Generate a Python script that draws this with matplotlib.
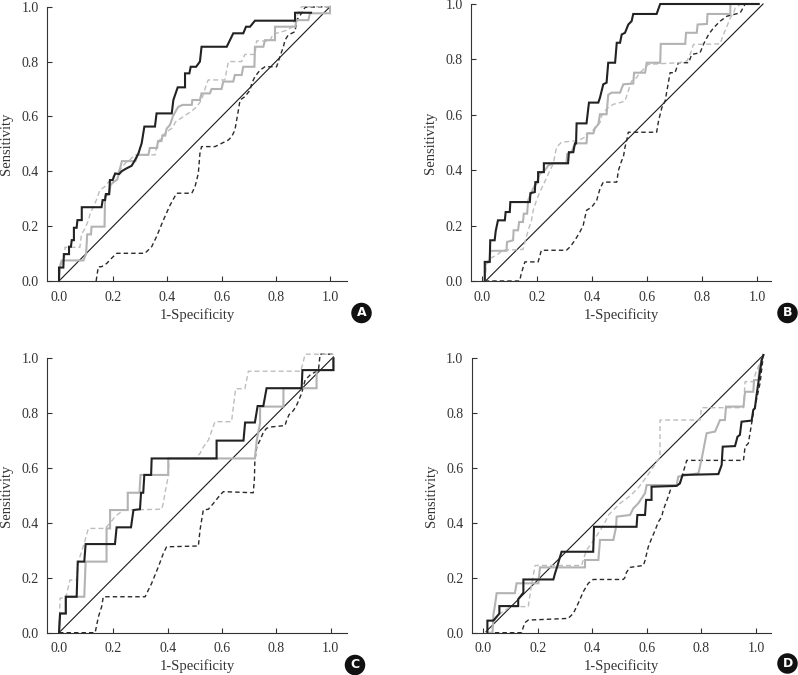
import matplotlib
matplotlib.use("Agg")
import matplotlib.pyplot as plt

# ROC curves: (1-specificity, sensitivity) corners
a_black = [(0, 0), (0, 0.049), (0.016, 0.049), (0.018, 0.098), (0.037, 0.098), (0.037, 0.125),
           (0.044, 0.125), (0.047, 0.149), (0.055, 0.149), (0.055, 0.194), (0.065, 0.194),
           (0.068, 0.222), (0.084, 0.222), (0.084, 0.269), (0.157, 0.269), (0.161, 0.295),
           (0.17, 0.295), (0.173, 0.317), (0.185, 0.317), (0.188, 0.368), (0.198, 0.368),
           (0.207, 0.392), (0.222, 0.39), (0.231, 0.4), (0.248, 0.41), (0.268, 0.42), (0.28, 0.44),
           (0.293, 0.465), (0.305, 0.502), (0.315, 0.563), (0.354, 0.563), (0.36, 0.611),
           (0.416, 0.611), (0.422, 0.66), (0.438, 0.706), (0.465, 0.706), (0.465, 0.757),
           (0.481, 0.757), (0.486, 0.781), (0.506, 0.781), (0.52, 0.8), (0.526, 0.854),
           (0.619, 0.854), (0.643, 0.903), (0.68, 0.903), (0.69, 0.927), (0.705, 0.927),
           (0.723, 0.949), (0.871, 0.949), (0.871, 0.978), (0.93, 0.978)]
a_gray = [(0, 0), (0.005, 0.06), (0.01, 0.075), (0.09, 0.075), (0.1, 0.1), (0.104, 0.17),
          (0.118, 0.17), (0.12, 0.198), (0.168, 0.198), (0.17, 0.31), (0.185, 0.315), (0.19, 0.35),
          (0.2, 0.36), (0.215, 0.37), (0.232, 0.437), (0.282, 0.437), (0.29, 0.46), (0.33, 0.46),
          (0.335, 0.485), (0.362, 0.485), (0.365, 0.51), (0.378, 0.51), (0.382, 0.53),
          (0.392, 0.53), (0.397, 0.555), (0.41, 0.57), (0.42, 0.6), (0.43, 0.618), (0.44, 0.635),
          (0.456, 0.642), (0.49, 0.642), (0.492, 0.66), (0.52, 0.66), (0.526, 0.684),
          (0.557, 0.684), (0.563, 0.7), (0.6, 0.7), (0.606, 0.727), (0.643, 0.727), (0.649, 0.751),
          (0.674, 0.751), (0.68, 0.781), (0.721, 0.781), (0.723, 0.854), (0.754, 0.854),
          (0.76, 0.878), (0.797, 0.878), (0.797, 0.927), (0.871, 0.927), (0.877, 0.951),
          (0.92, 0.951), (0.926, 0.976), (1.0, 0.976), (1.0, 1.0)]
a_gray_dash = [(0, 0), (0.004, 0.05), (0.02, 0.08), (0.022, 0.123), (0.077, 0.123), (0.083, 0.17),
               (0.095, 0.19), (0.108, 0.22), (0.115, 0.245), (0.14, 0.3), (0.15, 0.33), (0.17, 0.345),
               (0.19, 0.37), (0.21, 0.39), (0.225, 0.405), (0.245, 0.43), (0.26, 0.44), (0.28, 0.46),
               (0.355, 0.46), (0.36, 0.49), (0.37, 0.51), (0.38, 0.53), (0.4, 0.545), (0.42, 0.56),
               (0.43, 0.58), (0.445, 0.59), (0.46, 0.6), (0.475, 0.61), (0.49, 0.62), (0.508, 0.635),
               (0.526, 0.66), (0.545, 0.72), (0.551, 0.733), (0.612, 0.733), (0.625, 0.8),
               (0.674, 0.8), (0.686, 0.826), (0.723, 0.826), (0.729, 0.875), (0.778, 0.875),
               (0.79, 0.9), (0.834, 0.912), (0.858, 0.924), (0.871, 0.951), (0.883, 0.976),
               (0.895, 1.0), (1.0, 1.0)]
a_black_dash = [(0.137, 0), (0.145, 0.052), (0.157, 0.052), (0.176, 0.064), (0.194, 0.083),
                (0.213, 0.101), (0.317, 0.101), (0.342, 0.125), (0.36, 0.162), (0.385, 0.222),
                (0.41, 0.277), (0.434, 0.32), (0.49, 0.32), (0.502, 0.344), (0.514, 0.392),
                (0.52, 0.465), (0.526, 0.49), (0.576, 0.49), (0.625, 0.514), (0.637, 0.526),
                (0.649, 0.55), (0.662, 0.623), (0.668, 0.66), (0.686, 0.672), (0.705, 0.696),
                (0.711, 0.72), (0.723, 0.745), (0.742, 0.769), (0.76, 0.781), (0.803, 0.781),
                (0.815, 0.818), (0.828, 0.854), (0.834, 0.878), (0.846, 0.897), (0.871, 0.909),
                (0.877, 0.951), (0.895, 0.976), (0.908, 0.998), (1.0, 1.0)]
a_diag = [(0, 0), (1.0, 1.0)]

b_black = [(0.01, 0), (0.01, 0.069), (0.028, 0.069), (0.03, 0.147), (0.046, 0.147), (0.05, 0.181),
           (0.058, 0.219), (0.083, 0.219), (0.086, 0.249), (0.101, 0.249), (0.103, 0.285),
           (0.174, 0.285), (0.176, 0.317), (0.192, 0.321), (0.194, 0.357), (0.204, 0.357),
           (0.204, 0.393), (0.225, 0.393), (0.225, 0.425), (0.313, 0.425), (0.316, 0.465),
           (0.332, 0.465), (0.338, 0.497), (0.342, 0.497), (0.344, 0.569), (0.38, 0.569),
           (0.389, 0.644), (0.423, 0.644), (0.429, 0.662), (0.441, 0.71), (0.453, 0.716),
           (0.459, 0.788), (0.484, 0.788), (0.49, 0.86), (0.502, 0.86), (0.508, 0.89),
           (0.52, 0.896), (0.532, 0.926), (0.544, 0.938), (0.55, 0.964), (0.635, 0.964),
           (0.648, 1.0), (1.006, 1.0)]
b_gray = [(0.01, 0), (0.013, 0.063), (0.028, 0.069), (0.03, 0.109), (0.089, 0.109), (0.091, 0.141),
          (0.113, 0.147), (0.115, 0.183), (0.131, 0.183), (0.135, 0.213), (0.149, 0.213),
          (0.152, 0.243), (0.164, 0.243), (0.168, 0.291), (0.18, 0.321), (0.192, 0.345),
          (0.198, 0.351), (0.21, 0.387), (0.228, 0.399), (0.241, 0.417), (0.259, 0.425),
          (0.307, 0.425), (0.31, 0.459), (0.326, 0.465), (0.332, 0.483), (0.341, 0.497),
          (0.38, 0.497), (0.383, 0.533), (0.405, 0.533), (0.411, 0.552), (0.423, 0.566),
          (0.429, 0.602), (0.453, 0.602), (0.459, 0.672), (0.471, 0.68), (0.502, 0.68),
          (0.508, 0.696), (0.514, 0.71), (0.55, 0.713), (0.553, 0.752), (0.593, 0.752),
          (0.599, 0.788), (0.648, 0.788), (0.65, 0.856), (0.739, 0.856), (0.742, 0.896),
          (0.781, 0.896), (0.784, 0.926), (0.818, 0.928), (0.82, 0.964), (0.903, 0.964),
          (0.903, 1.0), (1.006, 1.0)]
b_gray_dash = [(0.01, 0), (0.016, 0.063), (0.028, 0.081), (0.052, 0.093), (0.077, 0.111),
               (0.149, 0.114), (0.156, 0.141), (0.168, 0.183), (0.18, 0.219), (0.186, 0.255),
               (0.198, 0.291), (0.21, 0.321), (0.222, 0.345), (0.247, 0.399), (0.259, 0.423),
               (0.271, 0.483), (0.289, 0.501), (0.35, 0.507), (0.374, 0.519), (0.38, 0.531),
               (0.399, 0.537), (0.411, 0.554), (0.429, 0.572), (0.435, 0.596), (0.447, 0.614),
               (0.459, 0.626), (0.478, 0.638), (0.502, 0.644), (0.52, 0.65), (0.532, 0.686),
               (0.544, 0.722), (0.557, 0.728), (0.575, 0.752), (0.593, 0.77), (0.605, 0.782),
               (0.714, 0.788), (0.745, 0.794), (0.757, 0.818), (0.769, 0.854), (0.866, 0.856),
               (0.878, 0.89), (0.891, 0.92), (0.903, 0.95), (0.915, 0.968), (0.921, 0.986),
               (0.939, 0.998), (1.006, 1.0)]
b_black_dash = [(0.01, 0), (0.137, 0), (0.143, 0.028), (0.156, 0.069), (0.204, 0.069),
                (0.216, 0.111), (0.307, 0.111), (0.32, 0.123), (0.338, 0.147), (0.356, 0.177),
                (0.368, 0.201), (0.38, 0.255), (0.399, 0.267), (0.417, 0.291), (0.429, 0.333),
                (0.441, 0.357), (0.49, 0.357), (0.496, 0.399), (0.508, 0.435), (0.514, 0.447),
                (0.52, 0.483), (0.526, 0.507), (0.532, 0.537), (0.635, 0.537), (0.642, 0.578),
                (0.654, 0.626), (0.666, 0.65), (0.684, 0.752), (0.702, 0.752), (0.714, 0.788),
                (0.751, 0.788), (0.763, 0.818), (0.793, 0.824), (0.806, 0.856), (0.824, 0.89),
                (0.842, 0.914), (0.866, 0.938), (0.891, 0.956), (0.915, 0.962), (0.939, 0.968),
                (0.957, 1.0), (1.0, 1.0)]
b_diag = [(0.013, 0), (1.022, 1.0)]

c_black = [(0, 0), (0.004, 0.07), (0.025, 0.07), (0.025, 0.131), (0.065, 0.131), (0.069, 0.259),
           (0.093, 0.259), (0.098, 0.323), (0.206, 0.323), (0.212, 0.384), (0.265, 0.384),
           (0.274, 0.447), (0.298, 0.45), (0.302, 0.51), (0.31, 0.51), (0.314, 0.575),
           (0.339, 0.575), (0.341, 0.635), (0.58, 0.635), (0.58, 0.7), (0.679, 0.7),
           (0.685, 0.766), (0.721, 0.766), (0.731, 0.826), (0.752, 0.826), (0.764, 0.891),
           (0.893, 0.891), (0.896, 0.957), (1.01, 0.957), (1.01, 1.0)]
c_gray = [(0, 0), (0.004, 0.07), (0.025, 0.07), (0.025, 0.131), (0.093, 0.131), (0.098, 0.259),
          (0.175, 0.259), (0.175, 0.38), (0.188, 0.38), (0.188, 0.447), (0.253, 0.447),
          (0.253, 0.51), (0.296, 0.51), (0.3, 0.575), (0.402, 0.575), (0.402, 0.635),
          (0.721, 0.635), (0.728, 0.702), (0.74, 0.763), (0.74, 0.824), (0.826, 0.824),
          (0.826, 0.891), (0.948, 0.891), (0.948, 0.957), (1.01, 0.957), (1.01, 1.0)]
c_gray_dash = [(0, 0), (0.004, 0.126), (0.025, 0.126), (0.04, 0.192), (0.065, 0.192),
               (0.071, 0.259), (0.093, 0.326), (0.108, 0.38), (0.169, 0.38), (0.188, 0.399),
               (0.206, 0.423), (0.237, 0.447), (0.378, 0.45), (0.384, 0.472), (0.39, 0.508),
               (0.402, 0.57), (0.405, 0.635), (0.5, 0.635), (0.519, 0.653), (0.532, 0.678),
               (0.55, 0.702), (0.574, 0.769), (0.635, 0.769), (0.65, 0.889), (0.684, 0.889),
               (0.697, 0.953), (0.89, 0.953), (0.906, 1.015), (1.01, 1.015)]
c_black_dash = [(0, 0), (0.133, 0), (0.145, 0.058), (0.157, 0.095), (0.163, 0.131), (0.317, 0.131),
                (0.329, 0.156), (0.341, 0.18), (0.366, 0.241), (0.384, 0.289), (0.396, 0.313),
                (0.513, 0.316), (0.519, 0.374), (0.531, 0.447), (0.55, 0.45), (0.568, 0.471),
                (0.593, 0.502), (0.605, 0.514), (0.715, 0.51), (0.719, 0.557), (0.721, 0.629),
                (0.728, 0.678), (0.74, 0.702), (0.752, 0.73), (0.764, 0.745), (0.783, 0.75),
                (0.832, 0.755), (0.838, 0.775), (0.847, 0.795), (0.863, 0.81), (0.875, 0.83),
                (0.893, 0.872), (0.906, 0.921), (0.924, 0.939), (0.955, 0.957), (0.961, 1.015),
                (1.01, 1.015)]
c_diag = [(0.004, 0.004), (1.01, 1.005)]

d_black = [(0.015, 0), (0.015, 0.044), (0.037, 0.044), (0.059, 0.07), (0.059, 0.097),
           (0.128, 0.097), (0.128, 0.122), (0.147, 0.146), (0.147, 0.194), (0.257, 0.194),
           (0.263, 0.216), (0.271, 0.241), (0.287, 0.295), (0.403, 0.295), (0.406, 0.386),
           (0.562, 0.386), (0.565, 0.429), (0.593, 0.429), (0.597, 0.484), (0.617, 0.484),
           (0.617, 0.532), (0.709, 0.535), (0.721, 0.544), (0.727, 0.563), (0.731, 0.575),
           (0.862, 0.578), (0.874, 0.611), (0.878, 0.678), (0.923, 0.68), (0.929, 0.702),
           (0.932, 0.714), (0.941, 0.721), (0.947, 0.769), (0.984, 0.773), (0.99, 0.812),
           (0.996, 0.818), (1.002, 0.866), (1.021, 0.994), (1.027, 1.012)]
d_gray = [(0.015, 0), (0.034, 0), (0.037, 0.065), (0.043, 0.101), (0.049, 0.144), (0.116, 0.144),
          (0.122, 0.18), (0.202, 0.18), (0.208, 0.238), (0.373, 0.238), (0.373, 0.265),
          (0.422, 0.265), (0.428, 0.338), (0.477, 0.338), (0.487, 0.386), (0.489, 0.423),
          (0.538, 0.429), (0.55, 0.453), (0.568, 0.471), (0.593, 0.508), (0.599, 0.538),
          (0.709, 0.538), (0.715, 0.569), (0.789, 0.581), (0.801, 0.635), (0.819, 0.727),
          (0.85, 0.733), (0.868, 0.775), (0.886, 0.775), (0.89, 0.824), (0.954, 0.824),
          (0.96, 0.878), (0.99, 0.878), (0.993, 0.921), (1.009, 0.921), (1.012, 0.964),
          (1.027, 1.012)]
d_gray_dash = [(0.015, 0), (0.03, 0), (0.035, 0.03), (0.05, 0.062), (0.1, 0.095), (0.165, 0.095),
               (0.17, 0.13), (0.177, 0.175), (0.19, 0.245), (0.36, 0.245), (0.378, 0.3),
               (0.4, 0.33), (0.42, 0.36), (0.44, 0.39), (0.46, 0.43), (0.5, 0.47), (0.54, 0.5),
               (0.57, 0.53), (0.6, 0.57), (0.648, 0.64), (0.648, 0.775), (0.795, 0.775),
               (0.8, 0.82), (0.954, 0.82), (0.96, 0.915), (0.99, 0.915), (1.0, 0.95),
               (1.027, 1.012)]
d_black_dash = [(0.015, 0), (0.14, 0), (0.152, 0.036), (0.165, 0.046), (0.311, 0.052),
                (0.33, 0.07), (0.348, 0.107), (0.367, 0.15), (0.385, 0.18), (0.403, 0.194),
                (0.513, 0.194), (0.519, 0.2), (0.525, 0.22), (0.538, 0.238), (0.587, 0.245),
                (0.593, 0.263), (0.605, 0.313), (0.617, 0.343), (0.63, 0.373), (0.642, 0.404),
                (0.654, 0.422), (0.66, 0.447), (0.678, 0.495), (0.69, 0.532), (0.721, 0.544),
                (0.746, 0.628), (0.954, 0.628), (0.96, 0.678), (0.972, 0.69), (0.984, 0.763),
                (0.99, 0.8), (1.002, 0.85), (1.015, 0.91), (1.027, 1.012)]
d_diag = [(0.01, 0.004), (1.025, 1.01)]

ticks = [0.0, 0.2, 0.4, 0.6, 0.8, 1.0]
tick_labels = ["0.0", "0.2", "0.4", "0.6", "0.8", "1.0"]
panel_letters = ["A", "B", "C", "D"]

SERIF = "Liberation Serif"
fig = plt.figure(figsize=(7.98, 6.75), dpi=100)

# axes boxes in pixels: (left spine, right spine, y=1 px, y=0 px) and x-limits
boxes = [
    (47, 347, 6.7, 281, (-0.0443, 1.0627)),
    (471, 771, 4.0, 281, (-0.040, 1.0509)),
    (47, 347, 358.3, 632.7, (-0.0442, 1.060)),
    (471.7, 771, 358.3, 632.7, (-0.0425, 1.055)),
]
panels = [
    (a_black, a_gray, a_gray_dash, a_black_dash, a_diag),
    (b_black, b_gray, b_gray_dash, b_black_dash, b_diag),
    (c_black, c_gray, c_gray_dash, c_black_dash, c_diag),
    (d_black, d_gray, d_gray_dash, d_black_dash, d_diag),
]
badges = [(361.5, 313), (787.5, 313), (355, 665), (787.5, 663.5)]

W, H = 798, 675
for (l, r, ytop, ybot, xl), curves, letter, (bx, by) in zip(boxes, panels, panel_letters, badges):
    ax = fig.add_axes([l / W, 1 - ybot / H, (r - l) / W, (ybot - ytop) / H])
    black, gray, gray_dash, black_dash, diag = curves

    def draw(pts, **kw):
        xs, ys = zip(*pts)
        ax.plot(xs, ys, clip_on=False, solid_joinstyle="miter", **kw)

    draw(diag, color="#1a1a1a", lw=0.8)
    draw(black_dash, color="#2a2a2a", lw=1.0, ls=(0, (3.2, 2.2)))
    draw(gray_dash, color="#bdbdbd", lw=1.0, ls=(0, (3.6, 2.2)))
    draw(gray, color="#b3b3b3", lw=1.5)
    draw(black, color="#222222", lw=1.5)

    ax.set_xlim(*xl)
    ax.set_ylim(0, 1)
    ax.set_xticks(ticks)
    ax.set_xticklabels(tick_labels, family=SERIF, fontsize=10, color="#333333")
    ax.set_yticks(ticks)
    ax.set_yticklabels(tick_labels, family=SERIF, fontsize=10, color="#333333")
    ax.tick_params(direction="in", length=3.5, width=0.8, color="#333333")
    ax.tick_params(axis="x", pad=7)
    ax.tick_params(axis="y", pad=6)
    for s in ("top", "right"):
        ax.spines[s].set_visible(False)
    for s in ("left", "bottom"):
        ax.spines[s].set_linewidth(0.8)
        ax.spines[s].set_color("#333333")
    ax.set_xlabel("1-Specificity", family=SERIF, fontsize=10.5, color="#333333", labelpad=3)
    ax.set_ylabel("Sensitivity", family=SERIF, fontsize=10.5, color="#333333", labelpad=6)

    fig.text(bx / W, 1 - by / H, letter, ha="center", va="center", color="white",
             fontsize=9, fontweight="bold", family="DejaVu Sans",
             bbox=dict(boxstyle="circle,pad=0.3", fc="#111111", ec="none"))

fig.savefig("out.png", dpi=100)
